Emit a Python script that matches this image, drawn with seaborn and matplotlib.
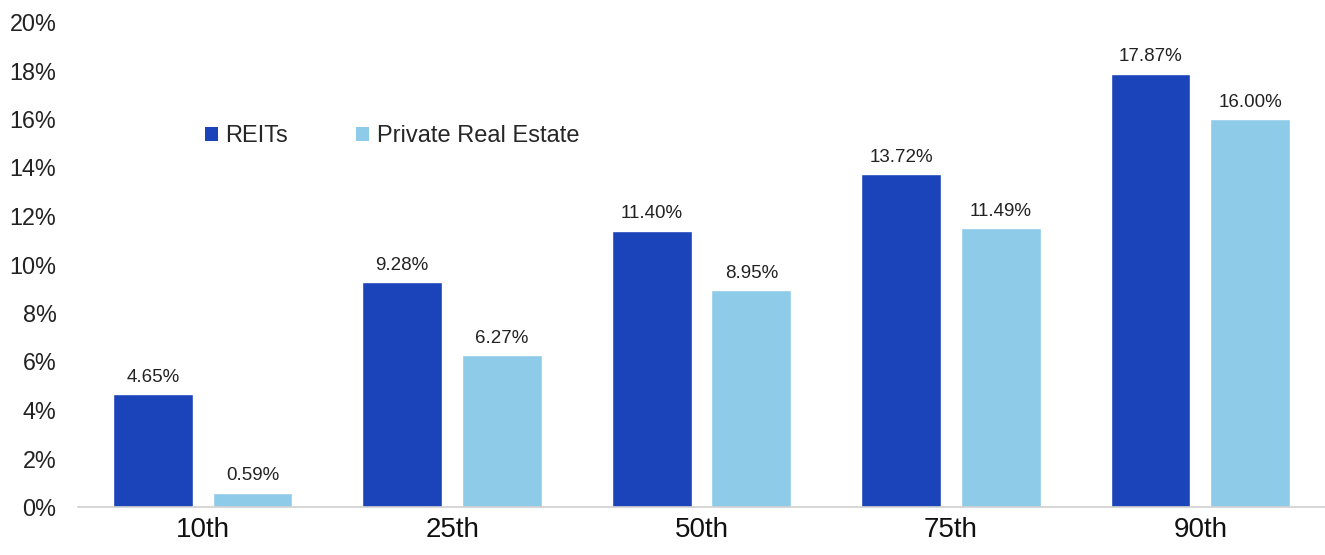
import matplotlib
matplotlib.use("Agg")
import matplotlib.pyplot as plt
import seaborn as sns
import pandas as pd
from matplotlib.patches import Patch
from matplotlib.ticker import FuncFormatter

categories = ["10th", "25th", "50th", "75th", "90th"]
series_names = ["REITs", "Private Real Estate"]
reits = [4.65, 9.28, 11.40, 13.72, 17.87]
private_re = [0.59, 6.27, 8.95, 11.49, 16.00]
colors = ["#1B44BA", "#8ECBE8"]

sns.set_theme(style="white")
plt.rcParams['font.family'] = ['Liberation Sans', 'DejaVu Sans']

df = pd.DataFrame({
    "Percentile": categories * 2,
    "Series": [series_names[0]] * 5 + [series_names[1]] * 5,
    "Value": reits + private_re,
})

fig = plt.figure(figsize=(13.25, 5.55), dpi=100)
ax = fig.add_axes([78 / 1325, 1 - 507 / 555, 1 - 78 / 1325, (507 - 22) / 555])

sns.barplot(data=df, x="Percentile", y="Value", hue="Series", order=categories,
            hue_order=series_names, palette=colors, width=0.8, gap=0.2,
            saturation=1, ax=ax, legend=False)

for container in ax.containers:
    ax.bar_label(container, labels=[f"{v:.2f}%" for v in container.datavalues],
                 padding=6, fontsize=13.5, color="#222222")

ax.set_ylim(0, 20)
ax.set_xlim(-0.5, 4.5)
ax.set_yticks(range(0, 21, 2))
ax.yaxis.set_major_formatter(FuncFormatter(lambda v, p: f"{int(v)}%"))
ax.tick_params(axis="y", labelsize=16.8, colors="#222222", length=0, pad=15.5)
ax.tick_params(axis="x", labelsize=20, colors="#111111", length=0, pad=7)
ax.set_xlabel("")
ax.set_ylabel("")
for s in ["top", "right", "left"]:
    ax.spines[s].set_visible(False)
ax.spines["bottom"].set_color("#d0d0d0")
ax.spines["bottom"].set_linewidth(1.2)

handles = [Patch(facecolor=c, edgecolor="none") for c in colors]
ax.legend(handles, series_names, loc="upper left", bbox_to_anchor=(0.102, 0.787),
          ncol=2, frameon=False, fontsize=17, handlelength=0.55, handleheight=0.55,
          handletextpad=0.3, columnspacing=2.9, borderaxespad=0, borderpad=0)

fig.savefig("out.png", dpi=100)
